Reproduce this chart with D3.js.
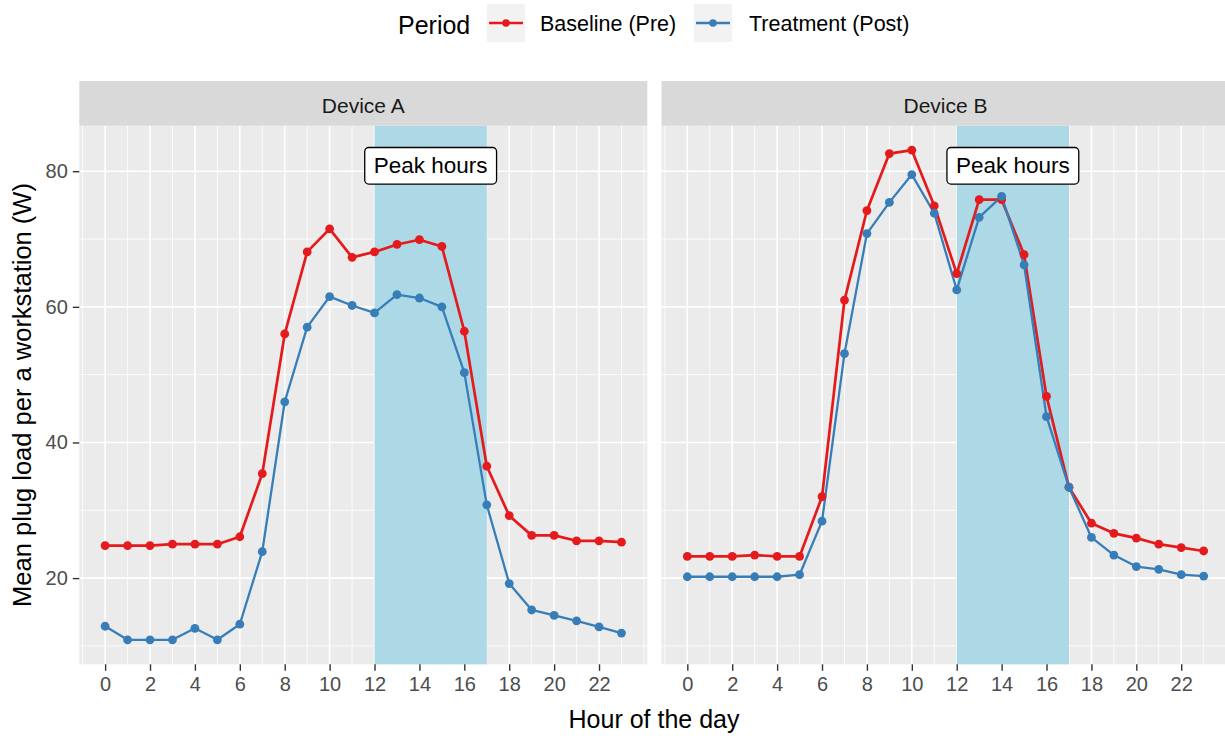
<!DOCTYPE html>
<html>
<head>
<meta charset="utf-8">
<script src="https://cdn.jsdelivr.net/npm/d3@7"></script>
<style>
  html, body { margin: 0; padding: 0; background: #ffffff; }
  svg { display: block; font-family: "Liberation Sans", Arial, sans-serif; }
</style>
</head>
<body>
<svg id="chart" width="1225" height="736"></svg>
<script>
// Hourly mean plug load per workstation, before/after treatment, two devices
const hours = [0, 1, 2, 3, 4, 5, 6, 7, 8, 9, 10, 11, 12, 13, 14, 15, 16, 17, 18, 19, 20, 21, 22, 23];
const devices = ["Device A", "Device B"];
const periods = ["Baseline (Pre)", "Treatment (Post)"];
const xTicks = [0, 2, 4, 6, 8, 10, 12, 14, 16, 18, 20, 22];
const yTicks = [20, 40, 60, 80];
const peakHours = [12, 17];
const peakLabel = "Peak hours";

const deviceABaseline  = [24.8, 24.8, 24.8, 25.0, 25.0, 25.0, 26.1, 35.4, 56.0, 68.1, 71.5, 67.3, 68.1, 69.2, 69.9, 68.9, 56.4, 36.5, 29.2, 26.3, 26.3, 25.5, 25.5, 25.3];
const deviceATreatment = [12.9, 10.9, 10.9, 10.9, 12.6, 10.9, 13.2, 23.9, 46.0, 57.0, 61.5, 60.2, 59.1, 61.8, 61.3, 60.0, 50.3, 30.8, 19.2, 15.3, 14.5, 13.7, 12.8, 11.9];
const deviceBBaseline  = [23.2, 23.2, 23.2, 23.4, 23.2, 23.2, 32.0, 61.0, 74.2, 82.6, 83.1, 74.9, 64.9, 75.8, 75.8, 67.7, 46.8, 33.4, 28.1, 26.6, 25.9, 25.0, 24.5, 24.0];
const deviceBTreatment = [20.2, 20.2, 20.2, 20.2, 20.2, 20.5, 28.4, 53.1, 70.8, 75.4, 79.5, 73.8, 62.5, 73.2, 76.3, 66.2, 43.8, 33.4, 26.0, 23.4, 21.7, 21.3, 20.5, 20.3];

const seriesByDevice = {
  "Device A": [deviceABaseline, deviceATreatment],
  "Device B": [deviceBBaseline, deviceBTreatment]
};

const colors = d3.scaleOrdinal().domain(periods).range(["#E41A1C", "#377EB8"]);
const lineWidths = { "Baseline (Pre)": 2.7, "Treatment (Post)": 2.3 };

// layout
const panelW = 568, panelTop = 125.7, panelBottom = 664.3;
const panelX0 = { "Device A": 79.3, "Device B": 661.5 };
const stripTop = 81, stripH = 44.7;

const svg = d3.select("#chart");

// shared scales with ggplot-style 5% expansion
const xExt = d3.extent(hours), xPad = (xExt[1] - xExt[0]) * 0.05;
const allVals = [].concat(deviceABaseline, deviceATreatment, deviceBBaseline, deviceBTreatment);
const yExt = d3.extent(allVals), yPad = (yExt[1] - yExt[0]) * 0.05;
const y = d3.scaleLinear().domain([yExt[0] - yPad, yExt[1] + yPad]).range([panelBottom, panelTop]);
const yMinor = [10, 30, 50, 70].filter(v => v >= y.domain()[0] && v <= y.domain()[1]);
const xMinor = d3.range(-1, 25).filter(v => v % 2 !== 0 || v === 24);

devices.forEach(dev => {
  const x0 = panelX0[dev];
  const x = d3.scaleLinear().domain([xExt[0] - xPad, xExt[1] + xPad]).range([x0, x0 + panelW]);
  const g = svg.append("g");

  const clipId = "clip-" + dev.replace(/\s/g, "");
  svg.append("clipPath").attr("id", clipId)
    .append("rect").attr("x", x0).attr("y", panelTop).attr("width", panelW).attr("height", panelBottom - panelTop);

  g.append("rect").attr("x", x0).attr("y", panelTop).attr("width", panelW)
    .attr("height", panelBottom - panelTop).attr("fill", "#EBEBEB");

  const grid = g.append("g").attr("clip-path", `url(#${clipId})`);
  grid.selectAll(".ymin").data(yMinor).join("line")
    .attr("x1", x0).attr("x2", x0 + panelW).attr("y1", d => y(d)).attr("y2", d => y(d))
    .attr("stroke", "#ffffff").attr("stroke-width", 0.8);
  grid.selectAll(".xmin").data(xMinor).join("line")
    .attr("y1", panelTop).attr("y2", panelBottom).attr("x1", d => x(d)).attr("x2", d => x(d))
    .attr("stroke", "#ffffff").attr("stroke-width", 0.8);
  grid.selectAll(".ymaj").data(yTicks).join("line")
    .attr("x1", x0).attr("x2", x0 + panelW).attr("y1", d => y(d)).attr("y2", d => y(d))
    .attr("stroke", "#ffffff").attr("stroke-width", 1.6);
  grid.selectAll(".xmaj").data(xTicks).join("line")
    .attr("y1", panelTop).attr("y2", panelBottom).attr("x1", d => x(d)).attr("x2", d => x(d))
    .attr("stroke", "#ffffff").attr("stroke-width", 1.6);

  // peak-hours band
  g.append("rect").attr("x", x(peakHours[0])).attr("width", x(peakHours[1]) - x(peakHours[0]))
    .attr("y", panelTop).attr("height", panelBottom - panelTop).attr("fill", "#ADD8E6");

  // lines then points
  const line = d3.line().x((d, i) => x(hours[i])).y(d => y(d));
  const series = seriesByDevice[dev];
  series.forEach((vals, k) => {
    g.append("path").datum(vals).attr("d", line).attr("fill", "none")
      .attr("stroke", colors(periods[k])).attr("stroke-width", lineWidths[periods[k]])
      .attr("stroke-linejoin", "round");
  });
  series.forEach((vals, k) => {
    g.selectAll(null).data(vals).join("circle")
      .attr("cx", (d, i) => x(hours[i])).attr("cy", d => y(d)).attr("r", 4.4)
      .attr("fill", colors(periods[k]));
  });

  // label
  const lx = x((peakHours[0] + peakHours[1]) / 2), ly = y(80.8);
  const lab = g.append("g");
  const t = lab.append("text").attr("x", lx).attr("y", ly).attr("text-anchor", "middle")
    .attr("dominant-baseline", "central").attr("font-size", 22.5).attr("fill", "#000").text(peakLabel);
  const bb = t.node().getBBox();
  lab.insert("rect", "text").attr("x", bb.x - 9).attr("y", ly - 18.3).attr("width", bb.width + 18)
    .attr("height", 36.6).attr("rx", 4).attr("fill", "#ffffff").attr("stroke", "#000").attr("stroke-width", 1.3);

  // strip
  g.append("rect").attr("x", x0).attr("y", stripTop).attr("width", panelW).attr("height", stripH).attr("fill", "#D9D9D9");
  g.append("text").attr("x", x0 + panelW / 2).attr("y", 113.3).attr("text-anchor", "middle")
    .attr("font-size", 21).attr("fill", "#1A1A1A").text(dev);

  // x axis
  const xa = g.append("g").attr("transform", `translate(0,${panelBottom})`)
    .call(d3.axisBottom(x).tickValues(xTicks).tickSize(6.5).tickPadding(6).tickFormat(d3.format("d")));
  xa.select(".domain").remove();
  xa.selectAll(".tick line").attr("stroke", "#333333").attr("stroke-width", 1.4);
  xa.selectAll(".tick text").attr("font-size", 20).attr("fill", "#4D4D4D").attr("font-family", "Liberation Sans, Arial, sans-serif");

  if (dev === devices[0]) {
    const ya = g.append("g").attr("transform", `translate(${x0},0)`)
      .call(d3.axisLeft(y).tickValues(yTicks).tickSize(6.5).tickPadding(5));
    ya.select(".domain").remove();
    ya.selectAll(".tick line").attr("stroke", "#333333").attr("stroke-width", 1.4);
    ya.selectAll(".tick text").attr("font-size", 20).attr("fill", "#4D4D4D").attr("font-family", "Liberation Sans, Arial, sans-serif");
  }
});

// axis titles
svg.append("text").attr("x", 654).attr("y", 728).attr("text-anchor", "middle")
  .attr("font-size", 25).attr("fill", "#000").text("Hour of the day");
svg.append("text").attr("transform", `translate(31,${(panelTop + panelBottom) / 2}) rotate(-90)`)
  .attr("text-anchor", "middle").attr("font-size", 25.5).attr("fill", "#000")
  .text("Mean plug load per a workstation (W)");

// legend
const legend = svg.append("g");
legend.append("text").attr("x", 398).attr("y", 34).attr("font-size", 25).attr("fill", "#000").text("Period");
const keyX = [487, 694], labelX = [540, 749];
periods.forEach((p, i) => {
  legend.append("rect").attr("x", keyX[i]).attr("y", 4).attr("width", 38).attr("height", 38).attr("fill", "#F2F2F2");
  legend.append("line").attr("x1", keyX[i] + 2).attr("x2", keyX[i] + 36).attr("y1", 23).attr("y2", 23)
    .attr("stroke", colors(p)).attr("stroke-width", lineWidths[p]);
  legend.append("circle").attr("cx", keyX[i] + 19).attr("cy", 23).attr("r", 3.8).attr("fill", colors(p));
  legend.append("text").attr("x", labelX[i]).attr("y", 31).attr("font-size", 21.5).attr("fill", "#000").text(p);
});
</script>
</body>
</html>
